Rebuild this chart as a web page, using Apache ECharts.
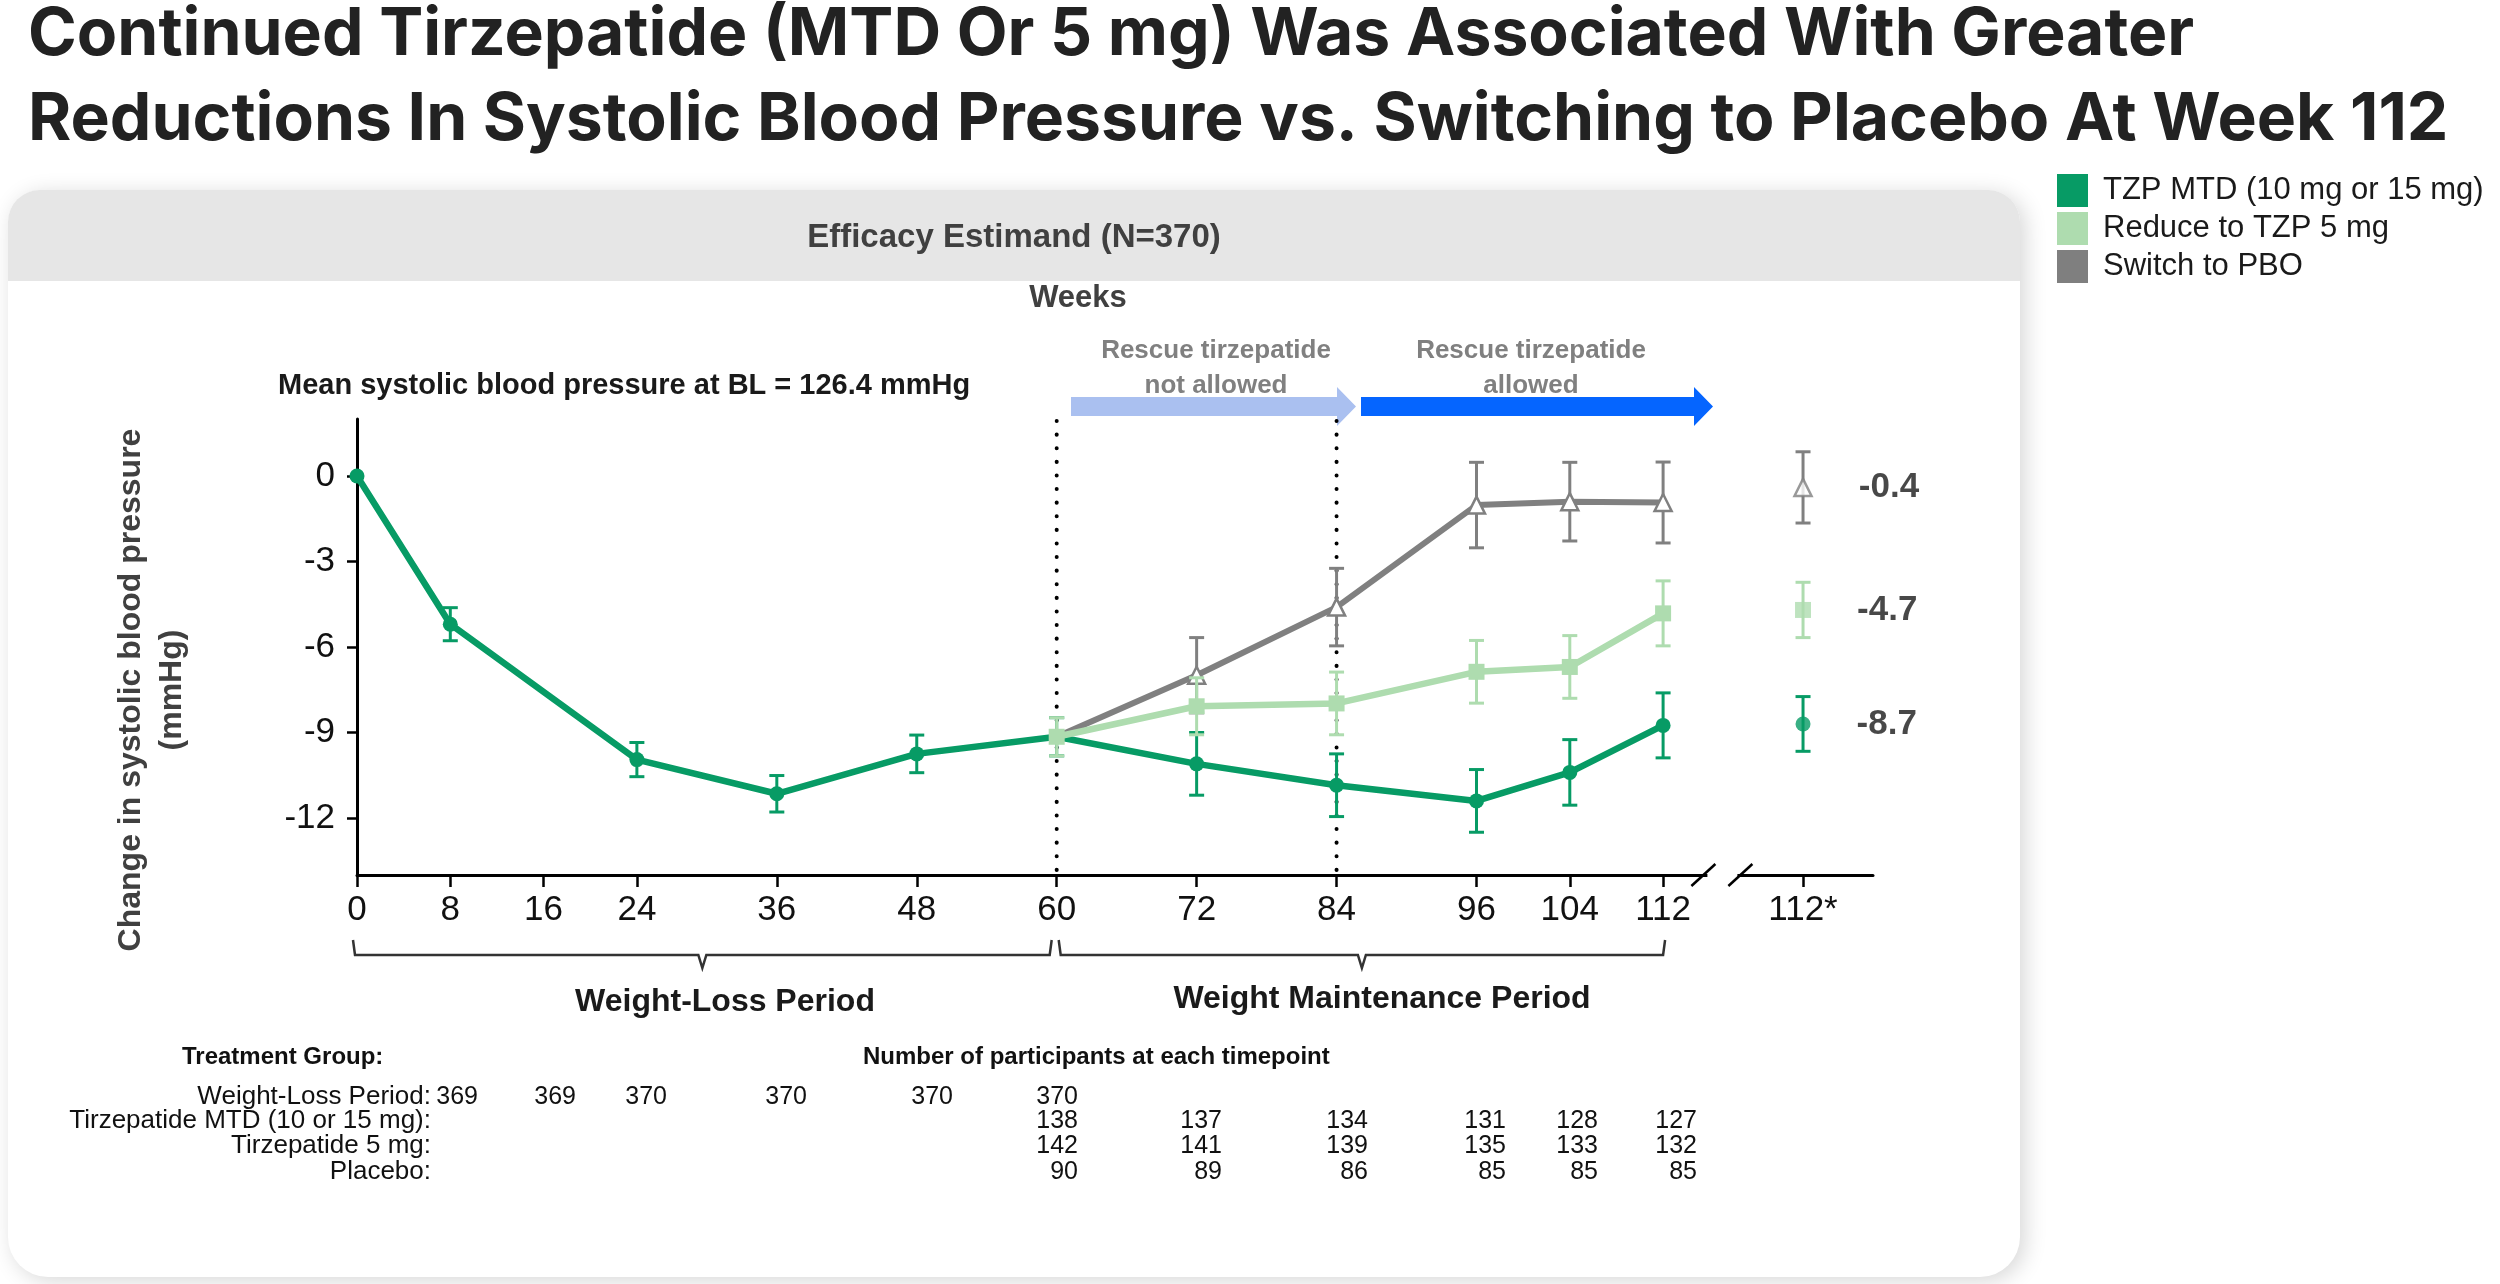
<!DOCTYPE html>
<html>
<head>
<meta charset="utf-8">
<title>Systolic blood pressure</title>
<script src="https://cdn.jsdelivr.net/npm/echarts@6/dist/echarts.min.js"></script>
<style>
    html, body { margin: 0; padding: 0; background: #fff; }
    #main { width: 2500px; height: 1284px; }
</style>
</head>
<body>
<div id="main"></div>
<script>
// ---- data ----
var weeksMTD = [0, 8, 24, 36, 48, 60, 72, 84, 96, 104, 112];
var meanMTD = [0, -5.2, -9.95, -11.15, -9.75, -9.15, -10.1, -10.85, -11.4, -10.4, -8.75];
var seMTD = [0, 0.58, 0.6, 0.64, 0.66, 0.67, 1.1, 1.1, 1.1, 1.15, 1.14];

var weeksMaint = [60, 72, 84, 96, 104, 112];
var mean5 = [-9.15, -8.08, -7.98, -6.87, -6.7, -4.82];
var se5 = [0.67, 1.0, 1.1, 1.1, 1.1, 1.14];
var meanPBO = [-9.15, -6.99, -4.6, -1.02, -0.9, -0.93];
var sePBO = [0, 1.32, 1.36, 1.5, 1.38, 1.42];

// week 112* (shown to the right of the axis break)
var starWeek = 124;
var starMTD = [-8.7, 0.96];
var star5 = [-4.7, 0.97];
var starPBO = [-0.4, 1.25];

var xTicks = [0, 8, 16, 24, 36, 48, 60, 72, 84, 96, 104, 112, 124];
var yTicks = [0, -3, -6, -9, -12];
var periodLines = [60, 84];
var axisBreak = [117];

var names = ['TZP MTD (10 mg or 15 mg)', 'Reduce to TZP 5 mg', 'Switch to PBO'];

var tableGroups = ['Weight-Loss Period:', 'Tirzepatide MTD (10 or 15 mg):', 'Tirzepatide 5 mg:', 'Placebo:'];
var nWeightLoss = [369, 369, 370, 370, 370, 370];
var nMTD = [138, 137, 134, 131, 128, 127];
var n5mg = [142, 141, 139, 135, 133, 132];
var nPBO = [90, 89, 86, 85, 85, 85];

// ---- styles ----
var cMTD = '#079B65', c5 = '#AEDCAF', cPBO = '#808080';
var sans = "'Liberation Sans', Arial, sans-serif";

function pairs(xs, ys) {
    return xs.map(function (x, i) { return [x, ys[i]]; });
}
function bars(xs, ys, se) {
    var out = [];
    xs.forEach(function (x, i) {
        if (se[i] > 0) out.push([x, ys[i] - se[i], ys[i] + se[i]]);
    });
    return out;
}

function errRender(color) {
    return function (params, api) {
        var x = api.value(0);
        var top = api.coord([x, api.value(2)]);
        var bot = api.coord([x, api.value(1)]);
        var hw = 7.5;
        var st = { stroke: color, lineWidth: 3 };
        return {
            type: 'group',
            children: [
                { type: 'line', shape: { x1: top[0], y1: top[1], x2: bot[0], y2: bot[1] }, style: st },
                { type: 'line', shape: { x1: top[0] - hw, y1: top[1], x2: top[0] + hw, y2: top[1] }, style: st },
                { type: 'line', shape: { x1: bot[0] - hw, y1: bot[1], x2: bot[0] + hw, y2: bot[1] }, style: st }
            ]
        };
    };
}

function errSeries(color, data, z) {
    return {
        type: 'custom',
        silent: true,
        z: z,
        renderItem: errRender(color),
        encode: { x: 0, y: [1, 2] },
        data: data
    };
}

var starLabel = {
    show: true,
    position: 'right',
    distance: 46,
    fontFamily: sans,
    fontSize: 35,
    fontWeight: 'bold',
    color: '#1a1a1a',
    formatter: function (p) { return p.value[1].toFixed(1); }
};

var pboData = pairs(weeksMaint, meanPBO);
pboData[0] = { value: pboData[0], symbol: 'none' };

var series = [
    // dotted period separators
    {
        type: 'custom',
        silent: true,
        z: 1,
        renderItem: function (params, api) {
            var a = api.coord([api.value(0), 2]);
            var b = api.coord([api.value(0), -14]);
            return {
                type: 'line',
                shape: { x1: a[0], y1: a[1] + 2, x2: b[0], y2: b[1] },
                style: { stroke: '#000', lineWidth: 4, lineDash: [0.1, 13.5], lineCap: 'round' }
            };
        },
        data: periodLines.map(function (w) { return [w, 0]; })
    },
    // axis break
    {
        type: 'custom',
        silent: true,
        z: 6,
        clip: false,
        renderItem: function (params, api) {
            var c = api.coord([api.value(0), -14]);
            var st = { stroke: '#000', lineWidth: 2.5 };
            return {
                type: 'group',
                children: [
                    { type: 'rect', shape: { x: c[0] - 14, y: c[1] - 5, width: 30, height: 10 }, style: { fill: '#fff' } },
                    { type: 'line', shape: { x1: c[0] - 30, y1: c[1] + 11, x2: c[0] - 6, y2: c[1] - 11 }, style: st },
                    { type: 'line', shape: { x1: c[0] + 7, y1: c[1] + 11, x2: c[0] + 31, y2: c[1] - 11 }, style: st }
                ]
            };
        },
        data: axisBreak.map(function (w) { return [w, -14]; })
    },
    // brackets under the axis
    {
        type: 'custom',
        silent: true,
        z: 6,
        clip: false,
        renderItem: function (params, api) {
            var a = api.coord([api.value(0), -14]);
            var b = api.coord([api.value(1), -14]);
            var dl = api.value(2), dr = api.value(3);
            var x0 = a[0] + dl, x1 = b[0] + dr, m = (x0 + x1) / 2;
            var y0 = a[1] + 65, y1 = a[1] + 80;
            return {
                type: 'polyline',
                shape: { points: [[x0, y0], [x0 + 2, y1], [m - 4, y1], [m, y1 + 13], [m + 4, y1], [x1 - 2, y1], [x1, y0]] },
                style: { stroke: '#333', lineWidth: 2.5, fill: null }
            };
        },
        data: [[0, 60, -4, -5], [60, 112, 2, 2]]
    },
    errSeries(cMTD, bars(weeksMTD, meanMTD, seMTD).concat([[starWeek, starMTD[0] - starMTD[1], starMTD[0] + starMTD[1]]]), 3),
    {
        name: names[0],
        type: 'line',
        z: 3,
        data: pairs(weeksMTD, meanMTD),
        symbol: 'circle',
        symbolSize: 15,
        lineStyle: { color: cMTD, width: 6.5 },
        itemStyle: { color: cMTD },
        emphasis: { disabled: true }
    },
    errSeries(cPBO, bars(weeksMaint, meanPBO, sePBO).concat([[starWeek, starPBO[0] - starPBO[1], starPBO[0] + starPBO[1]]]), 4),
    {
        name: names[2],
        type: 'line',
        z: 4,
        data: pboData,
        symbol: 'triangle',
        symbolSize: 17,
        lineStyle: { color: cPBO, width: 6 },
        itemStyle: { color: '#fff', borderColor: cPBO, borderWidth: 2.5 },
        emphasis: { disabled: true }
    },
    errSeries(c5, bars(weeksMaint, mean5, se5).concat([[starWeek, star5[0] - star5[1], star5[0] + star5[1]]]), 5),
    {
        name: names[1],
        type: 'line',
        z: 5,
        data: pairs(weeksMaint, mean5),
        symbol: 'rect',
        symbolSize: 16,
        lineStyle: { color: c5, width: 6.5 },
        itemStyle: { color: c5 },
        emphasis: { disabled: true }
    },
    {
        type: 'scatter',
        z: 6,
        data: [
            { value: [starWeek, starPBO[0]], symbol: 'triangle', symbolSize: 17, itemStyle: { color: '#fff', borderColor: cPBO, borderWidth: 2.5 } },
            { value: [starWeek, star5[0]], symbol: 'rect', symbolSize: 16, itemStyle: { color: c5 } },
            { value: [starWeek, starMTD[0]], symbol: 'circle', symbolSize: 15, itemStyle: { color: cMTD } }
        ],
        label: starLabel,
        emphasis: { disabled: true }
    }
];

// ---- page texts ----
var titleFont = "700 66px Inter, sans-serif";
var graphics = [
    { type: 'rect', z: -2, shape: { x: 8, y: 190, width: 2012, height: 1087, r: [32, 32, 40, 40] },
      style: { fill: '#fff', shadowBlur: 22, shadowColor: 'rgba(0,0,0,0.16)', shadowOffsetX: 5, shadowOffsetY: 4 } },
    { type: 'rect', z: -1, shape: { x: 8, y: 190, width: 2012, height: 91, r: [32, 32, 0, 0] }, style: { fill: '#E6E6E6' } },

    { type: 'text', x: 28, y: 35, style: { text: 'Continued Tirzepatide (MTD Or 5 mg) Was Associated With Greater', font: titleFont, fill: '#222', verticalAlign: 'middle' } },
    { type: 'text', x: 28, y: 120, style: { text: 'Reductions In Systolic Blood Pressure vs. Switching to Placebo At Week 112', font: titleFont, fill: '#222', verticalAlign: 'middle' } },

    { type: 'text', x: 1014, y: 238, style: { text: 'Efficacy Estimand (N=370)', font: "bold 33px " + sans, fill: '#404040', align: 'center', verticalAlign: 'middle' } },
    { type: 'text', x: 1078, y: 298, style: { text: 'Weeks', font: "bold 31px " + sans, fill: '#404040', align: 'center', verticalAlign: 'middle' } },
    { type: 'text', x: 278, y: 386, style: { text: 'Mean systolic blood pressure at BL = 126.4 mmHg', font: "bold 29px " + sans, fill: '#1a1a1a', verticalAlign: 'middle' } },

    { type: 'polygon', shape: { points: [[1071, 397], [1337, 397], [1337, 387], [1356, 406.5], [1337, 426], [1337, 416], [1071, 416]] }, style: { fill: '#AAC0F0' } },
    { type: 'polygon', shape: { points: [[1361, 397], [1694, 397], [1694, 387], [1713, 406.5], [1694, 426], [1694, 416], [1361, 416]] }, style: { fill: '#0565FF' } },
    { type: 'text', x: 1216, y: 351, style: { text: 'Rescue tirzepatide', font: "bold 26px " + sans, fill: '#808080', align: 'center', verticalAlign: 'middle' } },
    { type: 'text', x: 1216, y: 386, style: { text: 'not allowed', font: "bold 26px " + sans, fill: '#808080', align: 'center', verticalAlign: 'middle' } },
    { type: 'text', x: 1531, y: 351, style: { text: 'Rescue tirzepatide', font: "bold 26px " + sans, fill: '#808080', align: 'center', verticalAlign: 'middle' } },
    { type: 'text', x: 1531, y: 386, style: { text: 'allowed', font: "bold 26px " + sans, fill: '#808080', align: 'center', verticalAlign: 'middle' } },

    { type: 'text', x: 131, y: 690, rotation: Math.PI / 2, style: { text: 'Change in systolic blood pressure', font: "bold 32px " + sans, fill: '#404040', align: 'center', verticalAlign: 'middle' } },
    { type: 'text', x: 172, y: 690, rotation: Math.PI / 2, style: { text: '(mmHg)', font: "bold 32px " + sans, fill: '#404040', align: 'center', verticalAlign: 'middle' } },

    { type: 'text', x: 725, y: 1002, style: { text: 'Weight-Loss Period', font: "bold 32px " + sans, fill: '#1a1a1a', align: 'center', verticalAlign: 'middle' } },
    { type: 'text', x: 1382, y: 999, style: { text: 'Weight Maintenance Period', font: "bold 32px " + sans, fill: '#1a1a1a', align: 'center', verticalAlign: 'middle' } },

    { type: 'text', x: 182, y: 1057, style: { text: 'Treatment Group:', font: "bold 24px " + sans, fill: '#111', verticalAlign: 'middle' } },
    { type: 'text', x: 863, y: 1057, style: { text: 'Number of participants at each timepoint', font: "bold 24px " + sans, fill: '#111', verticalAlign: 'middle' } }
];

// participant table
var rowsY = [1097, 1121, 1146, 1172];
var colsWL = [478, 576, 667, 807, 953, 1078];
var colsMaint = [1078, 1222, 1368, 1506, 1598, 1697];
var tableRows = [[nWeightLoss, colsWL], [nMTD, colsMaint], [n5mg, colsMaint], [nPBO, colsMaint]];
tableGroups.forEach(function (g, r) {
    graphics.push({ type: 'text', x: 431, y: rowsY[r], style: { text: g, font: "26px " + sans, fill: '#111', align: 'right', verticalAlign: 'middle' } });
    tableRows[r][0].forEach(function (n, i) {
        graphics.push({ type: 'text', x: tableRows[r][1][i], y: rowsY[r], style: { text: String(n), font: "25px " + sans, fill: '#111', align: 'right', verticalAlign: 'middle' } });
    });
});

var myChart = echarts.init(document.getElementById('main'));

var option = {
    backgroundColor: '#fff',
    animation: false,
    legend: {
        orient: 'vertical',
        left: 2052,
        top: 169,
        itemWidth: 31,
        itemHeight: 33,
        itemGap: 5,
        selectedMode: false,
        textStyle: { fontFamily: sans, fontSize: 31, color: '#1a1a1a', padding: [0, 0, 0, 10] },
        data: [
            { name: names[0], icon: 'rect', itemStyle: { color: cMTD, borderWidth: 0 } },
            { name: names[1], icon: 'rect', itemStyle: { color: c5, borderWidth: 0 } },
            { name: names[2], icon: 'rect', itemStyle: { color: '#7F7F7F', borderWidth: 0 } }
        ]
    },
    grid: { left: 357, top: 419, width: 1516, height: 456, containLabel: false },
    xAxis: {
        type: 'value',
        min: 0,
        max: 130,
        splitLine: { show: false },
        axisLine: { onZero: false, lineStyle: { color: '#000', width: 3 } },
        axisTick: { customValues: xTicks, length: 12, lineStyle: { color: '#000', width: 2.5 } },
        axisLabel: {
            customValues: xTicks,
            margin: 18,
            fontFamily: sans,
            fontSize: 35,
            color: '#111',
            formatter: function (v) { return v === starWeek ? '112*' : String(v); }
        }
    },
    yAxis: {
        type: 'value',
        min: -14,
        max: 2,
        splitLine: { show: false },
        axisLine: { show: true, onZero: false, lineStyle: { color: '#000', width: 3 } },
        axisTick: { show: true, customValues: yTicks, length: 10, lineStyle: { color: '#000', width: 2.5 } },
        axisLabel: { customValues: yTicks, margin: 22, fontFamily: sans, fontSize: 35, color: '#111' }
    },
    graphic: graphics,
    series: series
};

myChart.setOption(option);
</script>
</body>
</html>
